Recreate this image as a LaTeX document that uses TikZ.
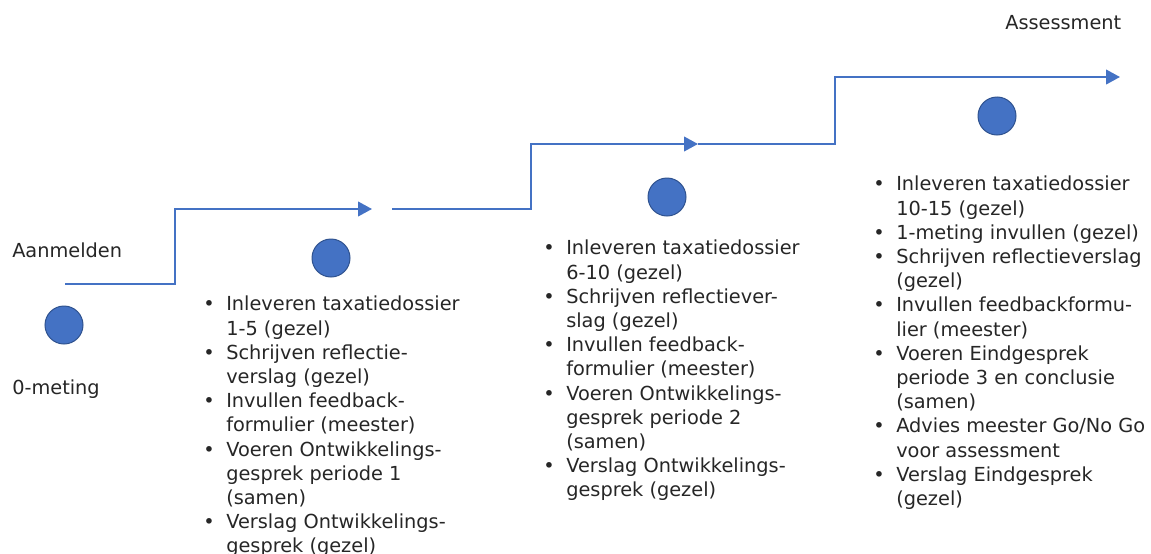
\documentclass[tikz,border=0pt]{standalone}
\usepackage{fontspec}
\setmainfont{DejaVu Sans}
\usetikzlibrary{arrows.meta,positioning,calc}
\definecolor{stepblue}{RGB}{68,114,196}
\definecolor{dotedge}{RGB}{47,82,143}
\definecolor{txtcolor}{RGB}{38,38,38}
\def\bulw{17.25pt}
\newcommand{\bul}{\makebox[\bulw][l]{\textbullet}}
\newcommand{\ind}{\hspace*{\bulw}}
\tikzset{
  dot/.style     = {circle, minimum size=28.5pt, inner sep=0pt, fill=stepblue,
                    draw=dotedge, line width=0.75pt},
  steparrow/.style = {-{Triangle[length=10.5pt,width=11pt]}, line width=1.5pt,
                    draw=stepblue},
  label/.style   = {inner sep=0pt, text=txtcolor, font=\fontsize{14.5}{16}\selectfont},
  tasks/.style   = {inner sep=0pt, align=left, text=txtcolor, anchor=north west,
                    font=\fontsize{14.5}{18.15}\selectfont}
}

\begin{document}
\begin{tikzpicture}[x=0.75pt,y=-0.75pt]
\useasboundingbox (0,0) rectangle (1151,553);

% --- phase dots ---
\foreach \x/\y [count=\i] in {64/325, 331/258, 667/197, 997/116}{
  \node[dot] (dot\i) at (\x,\y) {};
}

% --- labels ---
\node[label, anchor=base west] (aanm) at (12,257) {Aanmelden};
\node[label, anchor=base west] (nulm) at (12,394) {0-meting};
\node[label, anchor=base west] (assm) at (1005,29) {Assessment};

% --- stepped arrows ---
\coordinate (s1) at (65,284);
\coordinate (e1) at (372,209);
\coordinate (s2) at (392,209);
\coordinate (e2) at (698,144);
\coordinate (e3) at (1120,77);
\draw[steparrow] (s1) -- ++(110,0) |- (e1);
\draw[steparrow] (s2) -- ++(139,0) |- (e2);
\draw[steparrow] (e2) -- ++(137,0) |- (e3);

% --- task lists ---
\node[tasks] (list1) at (203,296) {%
  \bul Inleveren taxatiedossier\\ \ind 1-5 (gezel)\\
  \bul Schrijven reflectie-\\ \ind verslag (gezel)\\
  \bul Invullen feedback-\\ \ind formulier (meester)\\
  \bul Voeren Ontwikkelings-\\ \ind gesprek periode 1\\ \ind (samen)\\
  \bul Verslag Ontwikkelings-\\ \ind gesprek (gezel)};
\node[tasks] (list2) at (543,240) {%
  \bul Inleveren taxatiedossier\\ \ind 6-10 (gezel)\\
  \bul Schrijven reflectiever-\\ \ind slag (gezel)\\
  \bul Invullen feedback-\\ \ind formulier (meester)\\
  \bul Voeren Ontwikkelings-\\ \ind gesprek periode 2\\ \ind (samen)\\
  \bul Verslag Ontwikkelings-\\ \ind gesprek (gezel)};
\node[tasks] (list3) at (873,176) {%
  \bul Inleveren taxatiedossier\\ \ind 10-15 (gezel)\\
  \bul 1-meting invullen (gezel)\\
  \bul Schrijven reflectieverslag\\ \ind (gezel)\\
  \bul Invullen feedbackformu-\\ \ind lier (meester)\\
  \bul Voeren Eindgesprek\\ \ind periode 3 en conclusie\\ \ind (samen)\\
  \bul Advies meester Go/No Go\\ \ind voor assessment\\
  \bul Verslag Eindgesprek\\ \ind (gezel)};

\end{tikzpicture}
\end{document}
